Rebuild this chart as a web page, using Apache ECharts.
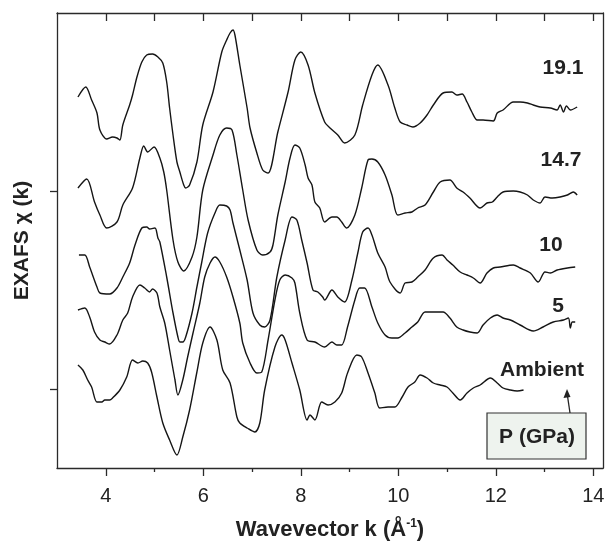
<!DOCTYPE html>
<html><head><meta charset="utf-8">
<script src="https://cdn.jsdelivr.net/npm/echarts@6/dist/echarts.min.js"></script>
<style>html,body{margin:0;padding:0;background:#fff}#c{width:605px;height:543px}</style>
</head><body><div id="c"></div>
<script>
// ---- data (k in 1/Å, chi(k) in arbitrary offset units) ----
const xMajorTicks = [4, 6, 8, 10, 12, 14];
const xMinorTicks = [5, 7, 9, 11, 13];
const xAllTicks = [4, 5, 6, 7, 8, 9, 10, 11, 12, 13, 14];
const yTicks = [79, 277];
const pressureLabels = ['19.1', '14.7', '10', '5', 'Ambient'];

const p191 = [[3.43,371],[3.59,381],[3.71,368],[3.82,355],[3.88,338],[4.02,329],[4.14,331],[4.23,330],[4.29,328],[4.35,343],[4.49,363],[4.55,373],[4.64,391],[4.74,406],[4.84,413],[4.96,414],[5.07,411],[5.17,405],[5.25,386],[5.31,360],[5.38,333],[5.46,306],[5.52,296],[5.60,283],[5.64,280],[5.72,283],[5.87,306],[5.99,343],[6.20,376],[6.38,416],[6.48,428],[6.55,435],[6.61,438],[6.65,433],[6.75,403],[6.90,360],[6.96,340],[7.10,315],[7.22,298],[7.33,295],[7.53,336],[7.74,376],[7.88,408],[8.00,416],[8.15,403],[8.29,375],[8.49,346],[8.60,340],[8.76,333],[8.90,325],[9.11,333],[9.27,363],[9.46,393],[9.58,403],[9.79,383],[9.93,360],[10.04,346],[10.18,343],[10.30,341],[10.45,345],[10.59,353],[10.72,363],[10.92,375],[11.10,376],[11.20,373],[11.31,374],[11.41,366],[11.51,356],[11.62,348],[11.74,348],[11.95,347],[12.03,355],[12.15,358],[12.36,366],[12.50,366],[12.65,365],[12.77,363],[12.91,361],[13.12,360],[13.26,358],[13.32,363],[13.39,356],[13.45,362],[13.53,358],[13.67,361]];
const p147 = [[3.43,280],[3.61,289],[3.77,266],[3.88,253],[4.02,240],[4.23,246],[4.35,263],[4.55,280],[4.70,310],[4.78,322],[4.86,316],[4.99,321],[5.11,310],[5.19,296],[5.25,278],[5.38,228],[5.48,206],[5.60,197],[5.77,211],[5.87,231],[5.99,278],[6.20,313],[6.34,333],[6.48,340],[6.59,338],[6.69,313],[6.81,278],[6.92,248],[7.10,218],[7.22,213],[7.37,216],[7.43,223],[7.53,253],[7.68,286],[7.78,310],[7.88,323],[7.98,320],[8.09,303],[8.15,290],[8.23,283],[8.29,266],[8.39,260],[8.49,246],[8.64,251],[8.74,251],[8.84,246],[8.94,240],[9.11,253],[9.25,280],[9.38,308],[9.46,309],[9.58,306],[9.73,293],[9.87,273],[9.99,253],[10.14,255],[10.28,256],[10.40,260],[10.55,263],[10.72,276],[10.86,286],[11.06,288],[11.20,280],[11.33,276],[11.47,270],[11.68,260],[11.82,265],[11.93,266],[12.03,271],[12.15,276],[12.36,277],[12.50,276],[12.65,273],[12.77,268],[12.91,265],[13.01,271],[13.16,270],[13.32,271],[13.47,273],[13.59,276],[13.67,273]];
const p10 = [[3.45,213],[3.57,213],[3.67,201],[3.82,181],[3.88,175],[4.08,174],[4.23,180],[4.35,191],[4.49,205],[4.60,223],[4.74,240],[4.84,241],[4.90,239],[5.01,240],[5.07,230],[5.11,226],[5.25,191],[5.38,155],[5.48,131],[5.52,126],[5.58,126],[5.64,131],[5.77,155],[5.87,181],[5.97,206],[6.09,235],[6.24,255],[6.34,263],[6.48,262],[6.55,258],[6.61,245],[6.75,218],[6.90,188],[7.02,155],[7.16,143],[7.26,141],[7.37,148],[7.51,191],[7.68,228],[7.82,251],[7.92,248],[8.02,228],[8.13,205],[8.25,178],[8.35,176],[8.45,171],[8.49,168],[8.64,178],[8.76,171],[8.90,166],[9.05,188],[9.17,215],[9.27,236],[9.38,240],[9.46,233],[9.58,215],[9.73,201],[9.83,186],[10.04,175],[10.14,185],[10.28,186],[10.40,191],[10.55,198],[10.72,210],[10.90,213],[11.00,208],[11.12,203],[11.27,196],[11.41,193],[11.54,190],[11.68,185],[11.82,195],[11.95,200],[12.09,201],[12.36,203],[12.50,200],[12.71,195],[12.87,186],[13.01,196],[13.12,195],[13.26,198],[13.47,200],[13.63,201]];
const p5 = [[3.43,158],[3.57,160],[3.67,151],[3.77,136],[3.88,128],[3.98,126],[4.08,124],[4.23,133],[4.35,148],[4.45,155],[4.55,171],[4.70,183],[4.80,180],[4.90,176],[4.96,179],[5.05,175],[5.11,161],[5.21,145],[5.31,118],[5.42,88],[5.48,73],[5.58,88],[5.68,111],[5.79,135],[5.93,165],[6.03,191],[6.14,205],[6.24,211],[6.34,206],[6.48,191],[6.61,171],[6.75,145],[6.81,125],[6.96,105],[7.10,95],[7.20,96],[7.33,128],[7.47,168],[7.57,188],[7.68,193],[7.82,190],[7.88,185],[7.98,155],[8.13,128],[8.29,126],[8.49,121],[8.64,126],[8.74,123],[8.84,123],[8.96,141],[9.11,168],[9.21,180],[9.31,180],[9.46,161],[9.58,145],[9.73,133],[9.87,130],[9.99,130],[10.14,135],[10.28,141],[10.40,146],[10.55,156],[10.72,156],[10.92,156],[11.06,150],[11.20,141],[11.33,138],[11.47,136],[11.62,135],[11.74,143],[11.89,150],[12.03,153],[12.15,150],[12.30,148],[12.50,143],[12.77,137],[12.97,141],[13.18,146],[13.39,148],[13.49,150],[13.53,140],[13.57,146],[13.63,146]];
const pAmb = [[3.43,103],[3.53,98],[3.63,88],[3.71,81],[3.82,66],[3.92,66],[3.98,68],[4.08,68],[4.14,70],[4.29,78],[4.43,91],[4.55,108],[4.66,105],[4.76,107],[4.86,105],[4.94,96],[5.05,71],[5.17,45],[5.31,28],[5.46,13],[5.58,31],[5.72,58],[5.87,96],[5.99,125],[6.14,141],[6.28,128],[6.40,98],[6.55,85],[6.69,51],[6.75,45],[6.90,40],[7.06,36],[7.16,45],[7.26,78],[7.47,121],[7.61,133],[7.68,128],[7.82,105],[7.98,78],[8.13,48],[8.19,53],[8.29,48],[8.43,66],[8.56,63],[8.70,66],[8.84,75],[8.96,95],[9.15,113],[9.25,111],[9.38,95],[9.52,75],[9.62,60],[9.79,61],[9.93,61],[10.08,71],[10.20,81],[10.34,86],[10.45,93],[10.59,90],[10.72,85],[10.86,83],[11.00,81],[11.12,75],[11.27,68],[11.41,75],[11.54,80],[11.68,83],[11.89,90],[12.03,85],[12.15,80],[12.30,78],[12.44,77],[12.57,78]];

// ---- chart ----
const FONT = '"Liberation Sans", Arial, sans-serif';
const AX = '#2a2a2a';
const chart = echarts.init(document.getElementById('c'), null, {renderer: 'canvas'});
const mkSeries = (name, d) => ({
  name, type: 'line', data: d, xAxisIndex: 0, yAxisIndex: 0,
  showSymbol: false, symbol: 'none', smooth: 0.3, silent: true,
  lineStyle: {color: '#151515', width: 1.4}
});
const xBase = {type: 'value', min: 3, max: 14.2, splitLine: {show: false}};
const labelStyle = {fontFamily: FONT, fontWeight: 'bold', fontSize: 21, fill: '#222'};
chart.setOption({
  animation: false,
  backgroundColor: '#fff',
  grid: {left: 57, right: 2, top: 13, bottom: 75, containLabel: false, outerBoundsMode: 'none'},
  xAxis: [
    Object.assign({}, xBase, {
      position: 'bottom',
      axisLine: {show: true, onZero: false, lineStyle: {color: AX, width: 1.3}},
      axisTick: {show: true, inside: false, length: 8, customValues: xMajorTicks, lineStyle: {color: AX, width: 1.3}},
      axisLabel: {show: true, customValues: xMajorTicks, margin: 18, fontFamily: FONT, fontSize: 20, color: '#222'},
      name: '{b|Wavevector k (Å}{s|-1}{b|)}',
      nameLocation: 'middle', nameGap: 50,
      nameTextStyle: {
        rich: {
          b: {fontFamily: FONT, fontWeight: 'bold', fontSize: 22, color: '#222', lineHeight: 24},
          s: {fontFamily: FONT, fontWeight: 'bold', fontSize: 12, color: '#222', lineHeight: 12, verticalAlign: 'top'}
        }
      }
    }),
    Object.assign({}, xBase, {
      position: 'bottom',
      axisLine: {show: false},
      axisTick: {show: true, inside: false, length: 4, customValues: xMinorTicks, lineStyle: {color: AX, width: 1.3}},
      axisLabel: {show: false}
    }),
    Object.assign({}, xBase, {
      position: 'top',
      axisLine: {show: true, onZero: false, lineStyle: {color: AX, width: 1.3}},
      axisTick: {show: true, inside: true, length: 8, customValues: xAllTicks, lineStyle: {color: AX, width: 1.3}},
      axisLabel: {show: false}
    })
  ],
  yAxis: [
    {
      type: 'value', min: 0, max: 455, position: 'left',
      splitLine: {show: false},
      axisLine: {show: true, onZero: false, lineStyle: {color: AX, width: 1.3}},
      axisTick: {show: true, inside: false, length: 7, customValues: yTicks, lineStyle: {color: AX, width: 1.3}},
      axisLabel: {show: false},
      name: 'EXAFS χ (k)', nameLocation: 'middle', nameGap: 24, nameRotate: 90,
      nameTextStyle: {fontFamily: FONT, fontWeight: 'bold', fontSize: 21, color: '#222'}
    },
    {
      type: 'value', min: 0, max: 455, position: 'right',
      splitLine: {show: false},
      axisLine: {show: true, onZero: false, lineStyle: {color: AX, width: 1.3}},
      axisTick: {show: false}, axisLabel: {show: false}
    }
  ],
  series: [
    mkSeries(pressureLabels[0], p191),
    mkSeries(pressureLabels[1], p147),
    mkSeries(pressureLabels[2], p10),
    mkSeries(pressureLabels[3], p5),
    mkSeries(pressureLabels[4], pAmb)
  ],
  graphic: [
    {type: 'text', x: 563, y: 68, style: Object.assign({text: pressureLabels[0], align: 'center', verticalAlign: 'middle'}, labelStyle)},
    {type: 'text', x: 561, y: 160, style: Object.assign({text: pressureLabels[1], align: 'center', verticalAlign: 'middle'}, labelStyle)},
    {type: 'text', x: 551, y: 245, style: Object.assign({text: pressureLabels[2], align: 'center', verticalAlign: 'middle'}, labelStyle)},
    {type: 'text', x: 558, y: 306, style: Object.assign({text: pressureLabels[3], align: 'center', verticalAlign: 'middle'}, labelStyle)},
    {type: 'text', x: 542, y: 370, style: Object.assign({text: pressureLabels[4], align: 'center', verticalAlign: 'middle'}, labelStyle)},
    {type: 'rect', shape: {x: 487, y: 413, width: 99, height: 46}, style: {fill: '#eef3ee', stroke: '#333', lineWidth: 1.2}},
    {type: 'text', x: 537, y: 437, style: Object.assign({text: 'P (GPa)', align: 'center', verticalAlign: 'middle'}, labelStyle)},
    {type: 'line', shape: {x1: 570, y1: 413, x2: 567.5, y2: 396}, style: {stroke: '#222', lineWidth: 1.3}},
    {type: 'polygon', shape: {points: [[567, 389], [563.5, 398], [570.5, 397]]}, style: {fill: '#222'}}
  ]
});
</script>
</body></html>
